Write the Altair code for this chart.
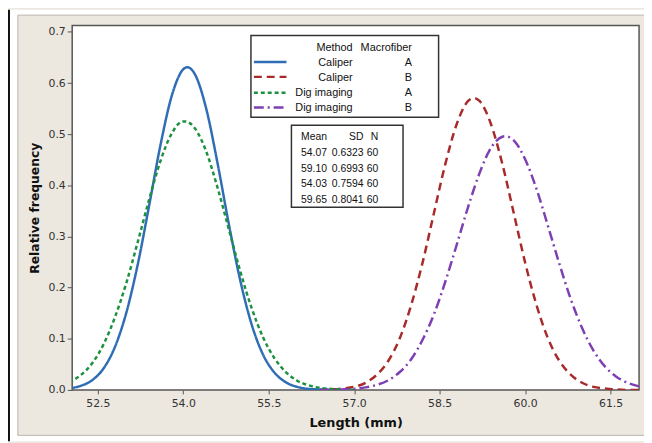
import altair as alt
import pandas as pd

# ---- curve values (x in mm, y = relative frequency) ----
blue_x = [52.0, 52.2, 52.4, 52.6, 52.8, 53.0, 53.2, 53.4, 53.6, 53.8, 54.0, 54.07,
          54.2, 54.4, 54.6, 54.8, 55.0, 55.2, 55.4, 55.6, 55.8, 56.0, 56.2, 56.4, 56.6]
blue_y = [0.003, 0.008, 0.019, 0.042, 0.084, 0.151, 0.245, 0.360, 0.479, 0.576, 0.627, 0.631,
          0.618, 0.551, 0.444, 0.324, 0.214, 0.128, 0.069, 0.034, 0.015, 0.006, 0.002, 0.001, 0.000]

red_x = [56.4, 56.6, 56.8, 57.0, 57.2, 57.4, 57.6, 57.8, 58.0, 58.2, 58.4, 58.6, 58.8, 59.0, 59.1,
         59.2, 59.4, 59.6, 59.8, 60.0, 60.2, 60.4, 60.6, 60.8, 61.0, 61.2, 61.4, 61.6, 61.8, 62.0]
red_y = [0.000, 0.001, 0.003, 0.006, 0.014, 0.030, 0.057, 0.101, 0.166, 0.249, 0.346, 0.442, 0.520, 0.565, 0.571,
         0.565, 0.520, 0.442, 0.346, 0.249, 0.166, 0.101, 0.057, 0.030, 0.014, 0.006, 0.003, 0.001, 0.000, 0.000]

green_x = [52.0, 52.2, 52.4, 52.6, 52.8, 53.0, 53.2, 53.4, 53.6, 53.8, 54.0, 54.03,
           54.2, 54.4, 54.6, 54.8, 55.0, 55.2, 55.4, 55.6, 55.8, 56.0, 56.2, 56.4, 56.6, 56.8, 57.0]
green_y = [0.015, 0.029, 0.052, 0.089, 0.142, 0.209, 0.289, 0.372, 0.448, 0.502, 0.525, 0.525,
           0.512, 0.467, 0.396, 0.314, 0.232, 0.160, 0.103, 0.062, 0.035, 0.018, 0.009, 0.004, 0.002, 0.001, 0.000]

purple_x = [56.4, 56.6, 56.8, 57.0, 57.2, 57.4, 57.6, 57.8, 58.0, 58.2, 58.4, 58.6, 58.8, 59.0, 59.2, 59.4, 59.6, 59.65,
            59.8, 60.0, 60.2, 60.4, 60.6, 60.8, 61.0, 61.2, 61.4, 61.6, 61.8, 62.0]
purple_y = [0.000, 0.000, 0.001, 0.002, 0.005, 0.010, 0.019, 0.035, 0.060, 0.098, 0.148, 0.212, 0.284, 0.358, 0.424, 0.473, 0.495, 0.496,
            0.488, 0.451, 0.393, 0.321, 0.247, 0.178, 0.121, 0.077, 0.046, 0.026, 0.014, 0.007]

methods = ["Caliper", "Caliper", "Dig imaging", "Dig imaging"]
macrofibers = ["A", "B", "A", "B"]
means = ["54.07", "59.10", "54.03", "59.65"]
sds = ["0.6323", "0.6993", "0.7594", "0.8041"]
ns = ["60", "60", "60", "60"]

x_ticks = [52.5, 54.0, 55.5, 57.0, 58.5, 60.0, 61.5]
y_ticks = [0.0, 0.1, 0.2, 0.3, 0.4, 0.5, 0.6, 0.7]

# ---- styles ----
styles = [
    dict(color="#2F6DB5", dash=[1, 0]),
    dict(color="#A82A2A", dash=[8, 5]),
    dict(color="#1E9140", dash=[4, 3]),
    dict(color="#7D3FB2", dash=[10, 4, 2, 4]),
]
series = [(blue_x, blue_y), (red_x, red_y), (green_x, green_y), (purple_x, purple_y)]

W, H = 574, 369
FONT = "DejaVu Sans"
BOXFONT = "Liberation Sans"
xscale = alt.Scale(domain=[52.05, 62.0], nice=False, zero=False)
yscale = alt.Scale(domain=[0, 0.7125], nice=False)

xaxis = alt.Axis(values=x_ticks, format=".1f", domain=False, grid=False, tickSize=4,
                 tickColor="#555", labelFont=FONT, labelFontSize=11, labelColor="#333",
                 labelPadding=4, title="Length (mm)", titleFont=FONT, titleFontWeight="bold",
                 titleFontSize=13, titleColor="#111", titleX=287, titleY=33,
                 titleBaseline="middle", titleAlign="center")
yaxis = alt.Axis(values=y_ticks, format=".1f", domain=False, grid=False, tickSize=5,
                 tickColor="#555", labelFont=FONT, labelFontSize=11, labelColor="#333",
                 labelPadding=2, title="Relative frequency", titleFont=FONT,
                 titleFontWeight="bold", titleFontSize=12.5, titleColor="#111",
                 titleX=-38, titleY=184.5, titleBaseline="middle", titleAlign="center",
                 titleAngle=270)

dummy = pd.DataFrame({"d": [0]})


def box(x, x2, y, y2, fill, stroke=None, sw=0):
    kw = dict(fill=fill)
    if stroke:
        kw.update(stroke=stroke, strokeWidth=sw)
    return alt.Chart(dummy).mark_rect(**kw).encode(
        x=alt.value(x), x2=alt.value(x2), y=alt.value(y), y2=alt.value(y2))


layers = []
# page decoration outside the beige panel
layers.append(box(-66, -55, -16, 421, "white"))
layers.append(box(-66, 580, -16, -10.5, "white"))
layers.append(box(-66, 580, 415, 421, "white"))
layers.append(box(-65, -63, -16, 421, "#111"))
layers.append(alt.Chart(dummy).mark_rect(fill="transparent", stroke="#B8B4AC", strokeWidth=1).encode(
    x=alt.value(-55), x2=alt.value(585), y=alt.value(-10.5), y2=alt.value(415)))

# curves
for (xs, ys), st in zip(series, styles):
    df = pd.DataFrame({"x": xs, "y": ys})
    layers.append(
        alt.Chart(df).mark_line(color=st["color"], strokeDash=st["dash"], strokeWidth=2.5,
                                interpolate="monotone", clip=True)
        .encode(x=alt.X("x:Q", scale=xscale, axis=xaxis),
                y=alt.Y("y:Q", scale=yscale, axis=yaxis))
    )

# legend box
layers.append(box(181, 371, 10, 93, "white", "#333", 1.5))
row_y = [37, 52, 68, 83]
for ry, st in zip(row_y, styles):
    layers.append(alt.Chart(dummy).mark_rule(color=st["color"], strokeDash=st["dash"], strokeWidth=2.5)
                  .encode(x=alt.value(184), x2=alt.value(217), y=alt.value(ry)))
layers.append(alt.Chart(dummy).mark_text(font=BOXFONT, fontSize=11, align="right", baseline="alphabetic",
                                         lineHeight=15.25, color="#111")
              .encode(x=alt.value(284), y=alt.value(26), text=alt.value(["Method"] + methods)))
layers.append(alt.Chart(dummy).mark_text(font=BOXFONT, fontSize=11, align="right", baseline="alphabetic",
                                         lineHeight=15.25, color="#111")
              .encode(x=alt.value(344), y=alt.value(26), text=alt.value(["Macrofiber"] + macrofibers)))

# statistics box
layers.append(box(222, 335, 101, 184, "white", "#333", 1.5))
for cx, head, col in [(258, "Mean", means), (295, "SD", sds), (310, "N", ns)]:
    layers.append(alt.Chart(dummy).mark_text(font=BOXFONT, fontSize=10.5, align="right", baseline="alphabetic",
                                             lineHeight=16, color="#111")
                  .encode(x=alt.value(cx), y=alt.value(116), text=alt.value([head] + col)))

chart = alt.layer(*layers).properties(
    width=W, height=H,
    padding={"left": 65, "top": 15, "right": 5, "bottom": 51},
    autosize=alt.AutoSizeParams(type="none"),
    background="#ECE8E0",
).configure_view(stroke="#555", strokeWidth=1.5, fill="white")

chart.save("out.html", embed_options={"renderer": "svg", "actions": False})
